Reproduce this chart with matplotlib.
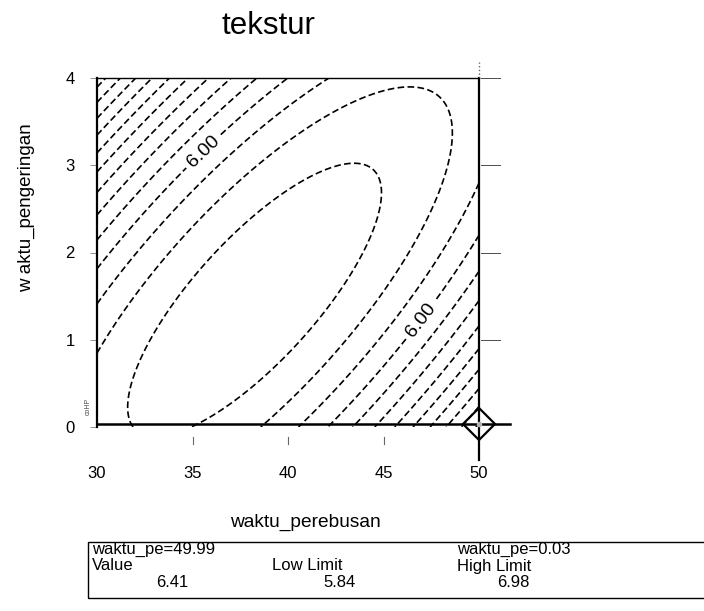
import numpy as np
import matplotlib
matplotlib.use("Agg")
import matplotlib.pyplot as plt
import matplotlib.patches as patches
from matplotlib.transforms import blended_transform_factory

plt.rcParams["font.family"] = ["Liberation Sans", "DejaVu Sans"]

# fitted response surface for tekstur (centred quadratic)
x_range = [30, 50]
y_range = [0, 4]
surface_center = [38.25, 1.456]        # waktu_perebusan, waktu_pengeringan at the minimum
surface_min = 5.815
surface_curv = [0.002056, -0.013668, 0.03697]   # (dx^2, dx*dy, dy^2)

contour_levels = [5.85, 5.90, 5.95, 6.00, 6.05, 6.10, 6.15, 6.20,
                  6.25, 6.30, 6.35, 6.40, 6.45]
labelled_levels = [6.00]

x_ticks = [30, 35, 40, 45, 50]
y_ticks = [0, 1, 2, 3, 4]

# crosshair readout
cross_x = 49.99
cross_y = 0.03
cross_value = 6.41
low_limit = 5.84
high_limit = 6.98

# grid
xs = np.linspace(x_range[0], x_range[1], 300)
ys = np.linspace(y_range[0], y_range[1], 300)
X, Y = np.meshgrid(xs, ys)
dx = X - surface_center[0]
dy = Y - surface_center[1]
Z = surface_min + surface_curv[0] * dx**2 + surface_curv[1] * dx * dy + surface_curv[2] * dy**2

fig = plt.figure(figsize=(7.04, 6.11), dpi=100)
ax = fig.add_axes([97 / 704, 1 - 427 / 611, 382 / 704, 349 / 611])

other_levels = [lv for lv in contour_levels if lv not in labelled_levels]
cs = ax.contour(X, Y, Z, levels=other_levels, colors="black", linewidths=1.2)
cs.set_linestyle((0, (4, 2)))
cs6 = ax.contour(X, Y, Z, levels=labelled_levels, colors="black", linewidths=1.2)
cs6.set_linestyle((0, (4, 2)))
ax.clabel(cs6, fmt="%.2f", fontsize=14, inline=True,
          manual=[(35.4, 3.2), (46.5, 1.3)])

ax.set_xlim(x_range)
ax.set_ylim(y_range)
ax.set_xticks(x_ticks)
ax.set_yticks(y_ticks)
ax.tick_params(axis="x", length=0, pad=28, labelsize=12)
ax.tick_params(axis="y", length=5, width=0.6, color="0.5", pad=11, labelsize=12)
ax.spines["left"].set_linewidth(1.6)
ax.spines["top"].set_linewidth(1.0)
ax.spines["right"].set_visible(False)
ax.spines["bottom"].set_visible(False)

# detached ticks below the x axis and on the right of the crosshair
tx = blended_transform_factory(ax.transData, ax.transAxes)
ty = blended_transform_factory(ax.transAxes, ax.transData)
for xt in x_ticks[1:-1]:
    ax.plot([xt, xt], [-0.028, -0.05], transform=tx, color="0.4", lw=0.8, clip_on=False)
for yt in y_ticks[1:]:
    ax.plot([1.005, 1.055], [yt, yt], transform=ty, color="0.3", lw=0.7, clip_on=False)

# crosshair
ax.plot([cross_x, cross_x], [-0.095, 1.0], transform=tx, color="black", lw=1.6, clip_on=False)
ax.plot([cross_x, cross_x], [1.0, 1.047], transform=tx, color="0.4", lw=1.0, ls=":", clip_on=False)
ax.plot([0, 1.08], [cross_y, cross_y], transform=ty, color="black", lw=1.8, clip_on=False)
ax.plot(cross_x, cross_y, marker="D", ms=16, mfc="none", mec="black", mew=1.6, clip_on=False)
ax.plot(cross_x, cross_y, marker="o", ms=3, mfc="0.7", mec="0.7", clip_on=False)

ax.text(-0.015, 0.06, "coHP", transform=ax.transAxes, rotation=90, fontsize=5,
        ha="right", va="center", color="0.3")

fig.text(268 / 704, 1 - 26 / 611, "tekstur", ha="center", va="center", fontsize=22.5)
fig.text(305 / 704, 1 - 522 / 611, "waktu_perebusan", ha="center", va="center", fontsize=13.8)
fig.text(26 / 704, 1 - 208 / 611, "w aktu_pengeringan", ha="center", va="center",
         rotation=90, fontsize=13.5)

# readout box
box = patches.Rectangle((88 / 704, 1 - 598 / 611), 0.9, 56 / 611, transform=fig.transFigure,
                        fill=False, lw=1.0, color="black")
fig.add_artist(box)
r1, r2, r3 = 1 - 549.5 / 611, 1 - 566 / 611, 1 - 582.5 / 611
fs = 12
fig.text(92 / 704, r1, f"waktu_pe={cross_x:.2f}", va="center", fontsize=fs)
fig.text(457 / 704, r1, f"waktu_pe={cross_y:.2f}", va="center", fontsize=fs)
fig.text(92 / 704, r2, "Value", va="center", fontsize=fs)
fig.text(272 / 704, r2, "Low Limit", va="center", fontsize=fs)
fig.text(457 / 704, r2, "High Limit", va="center", fontsize=fs)
fig.text(188 / 704, r3, f"{cross_value:.2f}", va="center", ha="right", fontsize=fs)
fig.text(356 / 704, r3, f"{low_limit:.2f}", va="center", ha="right", fontsize=fs)
fig.text(530 / 704, r3, f"{high_limit:.2f}", va="center", ha="right", fontsize=fs)

fig.savefig("out.png", dpi=100)
